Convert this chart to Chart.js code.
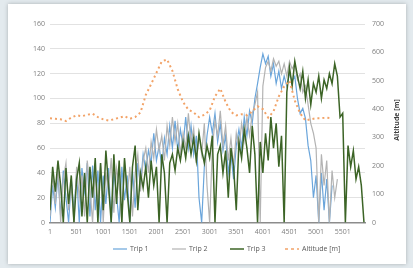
<!DOCTYPE html>
<html>
<head>
<meta charset="utf-8">
<script src="https://cdn.jsdelivr.net/npm/chart.js@4/dist/chart.umd.min.js"></script>
<style>
    html, body { margin: 0; padding: 0; background: #e3eaee; }
    #card { position: absolute; left: 8px; top: 4px; width: 398px; height: 260px; background: #fff; box-shadow: 0 0 4px rgba(0,0,0,0.25); }
</style>
</head>
<body>
<div id="card"><canvas id="chart"></canvas></div>
<script>
    "use strict";

    // sample spacing (data points) for trips and altitude
    var tripStep = 50;
    var altStep = 100;

    var xTicks = [1, 501, 1001, 1501, 2001, 2501, 3001, 3501, 4001, 4501, 5001, 5501];

    var trip1 = [0, 30, 12, 38, 5, 42, 20, 0, 35, 8, 40, 0, 44, 25, 48, 5, 46, 10, 42, 0,
        38, 15, 44, 0, 40, 22, 0, 45, 18, 38, 0, 42, 12, 48, 30, 55, 42, 58, 48, 72,
        50, 62, 45, 68, 55, 78, 60, 82, 58, 75, 62, 85, 60, 78, 55, 70, 20, 0, 45, 70,
        85, 72, 88, 65, 80, 58, 70, 40, 55, 35, 62, 75, 60, 85, 70, 90, 80, 100, 112, 125,
        136, 128, 134, 118, 128, 112, 122, 108, 118, 110, 120, 114, 118, 100, 88, 92, 84, 62, 50, 20,
        38, 0, 40, 10, 35, 0, 30];

    var trip2 = [5, 40, 15, 45, 0, 35, 48, 10, 30, 0, 45, 20, 38, 5, 50, 28, 0, 42, 15, 48,
        0, 40, 25, 52, 8, 44, 30, 0, 50, 20, 45, 5, 40, 55, 25, 50, 60, 40, 65, 52,
        75, 58, 70, 50, 78, 62, 85, 65, 80, 55, 72, 60, 88, 64, 76, 48, 70, 55, 80, 30,
        0, 60, 82, 70, 90, 62, 78, 50, 68, 45, 72, 58, 80, 66, 85, 70, 88, 95, 105, 0,
        110, 125, 130, 122, 132, 126, 130, 120, 128, 118, 130, 124, 128, 115, 120, 105, 110, 95, 80, 72,
        60, 0, 55, 30, 50, 0, 42, 20, 35];

    var trip3 = [10, 45, 25, 50, 30, 0, 44, 15, 38, 0, 35, 48, 5, 40, 0, 45, 20, 52, 0, 48,
        10, 58, 30, 0, 55, 15, 50, 0, 52, 25, 0, 45, 62, 10, 40, 28, 45, 20, 50, 30,
        45, 0, 55, 40, 0, 48, 55, 42, 60, 50, 65, 52, 70, 55, 68, 50, 72, 58, 48, 62,
        52, 70, 0, 55, 62, 40, 58, 20, 60, 45, 10, 65, 52, 75, 60, 40, 78, 55, 0, 65,
        40, 72, 50, 85, 60, 80, 45, 70, 0, 105, 125, 110, 130, 118, 108, 122, 100, 115, 95, 112,
        105, 118, 100, 115, 108, 120, 112, 128, 118, 85, 88, 0, 62, 45, 58, 35, 45, 30, 0];

    var altitude = [368, 366, 364, 358, 370, 378, 375, 380, 384, 372, 364, 360, 364, 370, 375, 366, 372, 388, 450, 488,
        528, 568, 575, 535, 470, 425, 398, 388, 372, 380, 395, 445, 472, 425, 390, 378, 382, 378, 392, 410,
        400, 370, 392, 445, 480, 500, 430, 385, 360, 364, 368, 368, 370, 368];

    function toPoints(values, step) {
        return values.map(function (v, i) { return {x: 1 + i * step, y: v}; });
    }

    var fontFamily = "'Open Sans', 'Liberation Sans', sans-serif";
    var tickFont = {family: fontFamily, size: 7};

    // right axis title (reads bottom-to-top) and bottom legend
    var extras = {
        id: 'extras',
        afterDraw: function (chart) {
            var ctx = chart.ctx;
            ctx.save();
            ctx.translate(389, 116);
            ctx.rotate(-Math.PI / 2);
            ctx.font = "bold 7px " + fontFamily;
            ctx.fillStyle = '#404040';
            ctx.textAlign = 'center';
            ctx.textBaseline = 'middle';
            ctx.fillText('Altitude [m]', 0, 0);
            ctx.restore();

            var legendX = [105, 164, 222, 277];
            var legendY = 245;
            ctx.save();
            ctx.font = "7px " + fontFamily;
            ctx.fillStyle = '#595959';
            ctx.textBaseline = 'middle';
            chart.data.datasets.forEach(function (ds, i) {
                var x = legendX[i];
                ctx.strokeStyle = ds.borderColor;
                ctx.lineWidth = Math.min(ds.borderWidth, 1.5);
                ctx.setLineDash(ds.borderDash ? [3, 3] : []);
                ctx.beginPath();
                ctx.moveTo(x, legendY);
                ctx.lineTo(x + 14, legendY);
                ctx.stroke();
                ctx.fillText(ds.label, x + 17, legendY);
            });
            ctx.restore();
        }
    };

    var ctx = document.getElementById('chart').getContext('2d');
    var myChart = new Chart(ctx, {
        type: 'line',
        data: {
            datasets: [{
                    label: 'Trip 1',
                    data: toPoints(trip1, tripStep),
                    borderColor: '#6aa5db',
                    borderWidth: 1.2,
                    yAxisID: 'y',
                    order: 3
                },
                {
                    label: 'Trip 2',
                    data: toPoints(trip2, tripStep),
                    borderColor: '#b3b3b3',
                    borderWidth: 1.2,
                    yAxisID: 'y',
                    order: 2
                },
                {
                    label: 'Trip 3',
                    data: toPoints(trip3, tripStep),
                    borderColor: '#3c6426',
                    borderWidth: 1.5,
                    yAxisID: 'y',
                    order: 1
                },
                {
                    label: 'Altitude [m]',
                    data: toPoints(altitude, altStep),
                    borderColor: '#f2a368',
                    borderWidth: 2,
                    borderDash: [2, 3],
                    yAxisID: 'y1',
                    order: 0
                }
            ]
        },
        options: {
            responsive: true,
            maintainAspectRatio: false,
            animation: false,
            elements: {
                point: {radius: 0},
                line: {tension: 0}
            },
            layout: {padding: {top: 20, bottom: 23}},
            plugins: {
                tooltip: {enabled: false},
                legend: {display: false}
            },
            scales: {
                x: {
                    type: 'linear',
                    min: 1,
                    max: 5920,
                    afterBuildTicks: function (scale) {
                        scale.ticks = xTicks.map(function (v) { return {value: v}; });
                    },
                    grid: {display: false, drawTicks: false},
                    border: {color: '#8c8c8c', width: 1.5},
                    ticks: {
                        color: '#7f7f7f', font: tickFont, maxRotation: 0, autoSkip: false, padding: 5,
                        callback: function (v) { return String(v); }
                    }
                },
                y: {
                    position: 'left',
                    min: 0,
                    max: 160,
                    afterFit: function (scale) { scale.width = 42; },
                    grid: {color: '#e2e2e2', drawTicks: false},
                    border: {display: false},
                    ticks: {stepSize: 20, color: '#7f7f7f', font: tickFont, padding: 5}
                },
                y1: {
                    position: 'right',
                    min: 0,
                    max: 700,
                    afterFit: function (scale) { scale.width = 41; },
                    grid: {drawOnChartArea: false, drawTicks: false},
                    border: {display: false},
                    ticks: {stepSize: 100, color: '#7f7f7f', font: tickFont, padding: 7}
                }
            }
        },
        plugins: [extras]
    });
</script>
</body>
</html>
